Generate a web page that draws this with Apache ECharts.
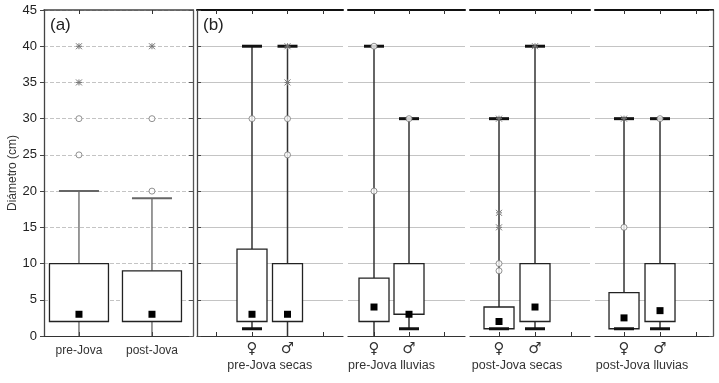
<!DOCTYPE html>
<html>
<head>
<meta charset="utf-8">
<script src="https://cdn.jsdelivr.net/npm/echarts@6/dist/echarts.min.js"></script>
<style>
html, body { margin: 0; padding: 0; background: #fff; }
#chart { width: 719px; height: 383px; }
</style>
</head>
<body>
<div id="chart"></div>
<script>
// panel (a): all trees, pre / post Jova
var aCats = ['pre-Jova', 'post-Jova'];
var aMin = [0, 0];
var aQ1 = [2, 2];
var aQ3 = [10, 9];
var aMax = [20, 19];
var aMean = [3, 3];
var aCircles = [[25, 30], [20, 30]];
var aStars = [[35, 40], [40]];

// panel (b): by season and sex  [♀, ♂]
var bGroups = ['pre-Jova secas', 'pre-Jova lluvias', 'post-Jova secas', 'post-Jova lluvias'];
var bSex = ['♀', '♂'];
var bMin = [[1, 0], [0, 1], [1, 1], [1, 1]];
var bQ1 = [[2, 2], [2, 3], [1, 2], [1, 2]];
var bQ3 = [[12, 10], [8, 10], [4, 10], [6, 10]];
var bMax = [[40, 40], [40, 30], [30, 40], [30, 30]];
var bMean = [[3, 3], [4, 3], [2, 4], [2.5, 3.5]];
var bCircles = [[[30], [30, 25]], [[40, 20], [30]], [[10, 9], []], [[15], [30]]];
var bStars = [[[], [40, 35]], [[], []], [[30, 17, 15], [40]], [[30], []]];

var FONT = '"Liberation Sans", Arial, "DejaVu Sans", sans-serif';

// layout of the five plotting areas
var panels = [
    { left: 44, width: 149, min: -0.479, max: 1.562, ticks: [0, 1], half: 29.5, cap: 20 },
    { left: 197, width: 146, min: -1.549, max: 2.563, ticks: [-1, 0, 1, 2], half: 15, cap: 10 },
    { left: 348, width: 117, min: -0.743, max: 2.6, ticks: [0, 1, 2], half: 15, cap: 10 },
    { left: 470, width: 120, min: -0.806, max: 2.528, ticks: [0, 1, 2], half: 15, cap: 10 },
    { left: 595, width: 118, min: -0.806, max: 2.472, ticks: [0, 1, 2], half: 15, cap: 10 }
];

function boxRender(p) {
    var isA = p === 0;
    return function (params, api) {
        var x = api.value(0);
        var mn = api.coord([x, api.value(1)]);
        var q1 = api.coord([x, api.value(2)]);
        var q3 = api.coord([x, api.value(3)]);
        var mx = api.coord([x, api.value(4)]);
        var me = api.coord([x, api.value(5)]);
        var h = panels[p].half, c = panels[p].cap;
        var wStyle = { stroke: isA ? '#555' : '#333', lineWidth: isA ? 1.2 : 1.5 };
        var capStyle = { stroke: isA ? '#666' : '#111', lineWidth: isA ? 2 : 3 };
        var kids = [
            { type: 'line', shape: { x1: mx[0], y1: mx[1], x2: q3[0], y2: q3[1] }, style: wStyle },
            { type: 'line', shape: { x1: q1[0], y1: q1[1], x2: mn[0], y2: mn[1] }, style: wStyle },
            { type: 'rect', shape: { x: q3[0] - h, y: q3[1], width: 2 * h, height: q1[1] - q3[1] },
              style: { fill: '#fff', stroke: '#222', lineWidth: 1.3 } },
            { type: 'line', shape: { x1: mx[0] - c, y1: mx[1], x2: mx[0] + c, y2: mx[1] }, style: capStyle },
            { type: 'rect', shape: { x: me[0] - 3.5, y: me[1] - 3.5, width: 7, height: 7 }, style: { fill: '#000' } }
        ];
        if (api.value(1) > 0) {
            kids.push({ type: 'line', shape: { x1: mn[0] - c, y1: mn[1], x2: mn[0] + c, y2: mn[1] }, style: capStyle });
        }
        return { type: 'group', children: kids };
    };
}

function starRender(params, api) {
    var pt = api.coord([api.value(0), api.value(1)]);
    var r = 3, st = { stroke: '#777', lineWidth: 1 };
    return {
        type: 'group',
        children: [
            { type: 'line', shape: { x1: pt[0] - r, y1: pt[1], x2: pt[0] + r, y2: pt[1] }, style: st },
            { type: 'line', shape: { x1: pt[0], y1: pt[1] - r, x2: pt[0], y2: pt[1] + r }, style: st },
            { type: 'line', shape: { x1: pt[0] - r, y1: pt[1] - r, x2: pt[0] + r, y2: pt[1] + r }, style: st },
            { type: 'line', shape: { x1: pt[0] - r, y1: pt[1] + r, x2: pt[0] + r, y2: pt[1] - r }, style: st }
        ]
    };
}

var grids = [], xAxes = [], yAxes = [], series = [];

panels.forEach(function (pn, p) {
    var isA = p === 0;
    grids.push({ left: pn.left, width: pn.width, top: 10, height: 326 });

    var labelVals = isA ? [0, 1] : [0, 0.5, 1];
    xAxes.push({
        type: 'value', gridIndex: p, position: 'bottom', min: pn.min, max: pn.max,
        axisLine: { show: true, onZero: false, lineStyle: { color: '#333', width: 1.2 } },
        axisTick: { show: true, inside: true, length: 4, customValues: pn.ticks, lineStyle: { color: '#333' } },
        splitLine: { show: false },
        axisLabel: {
            show: true, customValues: labelVals, margin: isA ? 9 : 6,
            color: '#333', fontFamily: FONT, fontSize: 12,
            formatter: function (v) {
                if (isA) return aCats[Math.round(v)];
                if (v === 0.5) return '{g|' + bGroups[p - 1] + '}';
                return '{s|' + bSex[Math.round(v)] + '}';
            },
            rich: {
                s: { fontSize: 15, fontFamily: '"DejaVu Sans", sans-serif', color: '#333', fontWeight: 'bold' },
                g: { fontSize: 12.5, fontFamily: FONT, color: '#333', padding: [17, 0, 0, 0] }
            }
        }
    });
    xAxes.push({
        type: 'value', gridIndex: p, position: 'top', min: pn.min, max: pn.max,
        axisLine: { show: true, onZero: false, lineStyle: { color: isA ? '#444' : '#111', width: isA ? 1.5 : 2 } },
        axisTick: { show: true, inside: true, length: 4, customValues: pn.ticks, lineStyle: { color: '#333' } },
        splitLine: { show: false },
        axisLabel: { show: false }
    });

    var showLeft = p <= 1, showRight = p === 0 || p === 4;
    yAxes.push({
        type: 'value', gridIndex: p, position: 'left', min: 0, max: 45, interval: 5,
        name: isA ? 'Diámetro (cm)' : '', nameLocation: 'middle', nameGap: 25,
        nameTextStyle: { fontFamily: FONT, fontSize: 12, color: '#333' },
        axisLine: { show: showLeft, onZero: false, lineStyle: { color: '#444', width: 1.3 } },
        axisTick: { show: showLeft, inside: !isA, length: 4, lineStyle: { color: '#444' } },
        axisLabel: { show: isA, fontFamily: FONT, fontSize: 13, color: '#222', margin: 7 },
        splitLine: { show: true, lineStyle: { color: '#c4c4c4', width: 1, type: isA ? [4, 2] : 'solid' } }
    });
    yAxes.push({
        type: 'value', gridIndex: p, position: 'right', min: 0, max: 45, interval: 5,
        axisLine: { show: showRight, onZero: false, lineStyle: { color: '#555', width: 1.3 } },
        axisTick: { show: showRight, inside: true, length: 4, lineStyle: { color: '#555' } },
        axisLabel: { show: false },
        splitLine: { show: false }
    });

    // boxes
    var boxData = [], circ = [], star = [];
    if (isA) {
        aCats.forEach(function (c, i) {
            boxData.push([i, aMin[i], aQ1[i], aQ3[i], aMax[i], aMean[i]]);
            aCircles[i].forEach(function (v) { circ.push([i, v]); });
            aStars[i].forEach(function (v) { star.push([i, v]); });
        });
    } else {
        var g = p - 1;
        bSex.forEach(function (s, i) {
            boxData.push([i, bMin[g][i], bQ1[g][i], bQ3[g][i], bMax[g][i], bMean[g][i]]);
            bCircles[g][i].forEach(function (v) { circ.push([i, v]); });
            bStars[g][i].forEach(function (v) { star.push([i, v]); });
        });
    }
    series.push({
        type: 'custom', xAxisIndex: 2 * p, yAxisIndex: 2 * p, renderItem: boxRender(p),
        data: boxData, z: 2, silent: true, clip: false
    });
    series.push({
        type: 'scatter', xAxisIndex: 2 * p, yAxisIndex: 2 * p, data: circ, symbol: 'circle', symbolSize: 6,
        itemStyle: { color: '#fff', borderColor: '#777', borderWidth: 1 }, z: 4, silent: true
    });
    series.push({
        type: 'custom', xAxisIndex: 2 * p, yAxisIndex: 2 * p, renderItem: starRender,
        data: star, z: 4, silent: true
    });
});

var chart = echarts.init(document.getElementById('chart'));
chart.setOption({
    backgroundColor: '#fff',
    animation: false,
    grid: grids,
    xAxis: xAxes,
    yAxis: yAxes,
    series: series,
    graphic: [
        { type: 'text', left: 50, top: 17, style: { text: '(a)', fontFamily: FONT, fontSize: 17, fill: '#222' } },
        { type: 'text', left: 203, top: 17, style: { text: '(b)', fontFamily: FONT, fontSize: 17, fill: '#222' } }
    ]
});
</script>
</body>
</html>
